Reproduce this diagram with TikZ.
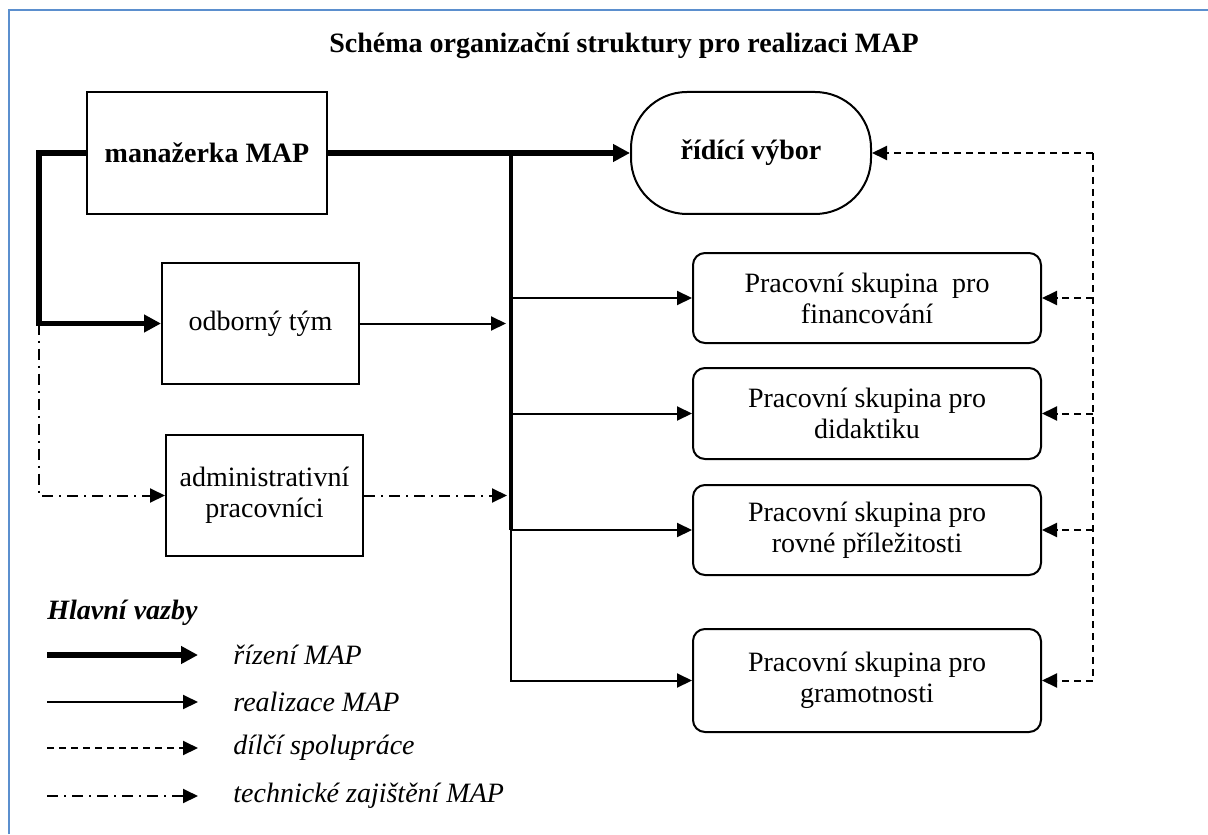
\documentclass[tikz,border=0pt]{standalone}
\usepackage{fontspec}
\setmainfont{Liberation Serif}
\usetikzlibrary{arrows.meta}
\definecolor{ramec}{RGB}{91,143,206}

\begin{document}
\begin{tikzpicture}[x=0.5pt,y=-0.5pt,
        font=\fontsize{14}{15.5}\selectfont,
        box/.style={draw,line width=1pt,minimum width=98.5pt,minimum height=60.5pt,align=center,inner sep=1pt},
        skupina/.style={draw,line width=1pt,rounded corners=6pt,minimum width=174pt,minimum height=45pt,align=center,inner sep=1pt},
        popis/.style={anchor=west,inner sep=0pt,font=\fontsize{14}{15.5}\selectfont\itshape},
        rizeni/.style={line width=2.7pt,-{Triangle[length=8.5pt,width=8.5pt]}},
        realizace/.style={line width=1pt,-{Triangle[length=7.5pt,width=7pt]}},
        spoluprace/.style={line width=1pt,dash pattern=on 3.5pt off 2.5pt,-{Triangle[length=7.5pt,width=7pt]}},
        technicke/.style={line width=1pt,dash pattern=on 5.5pt off 3pt on 1pt off 3pt,-{Triangle[length=7.5pt,width=7pt]}}]
    \useasboundingbox (0,0) rectangle (1208,834);
    % frame
    \draw[ramec,line width=0.8pt] (9,834) -- (9,10) -- (1208,10);

    % title
    \node[font=\fontsize{14}{16}\selectfont\bfseries] (nadpis) at (624,46) {Schéma organizační struktury pro realizaci MAP};

    % left column
    \node[box,minimum width=120pt,minimum height=61pt,font=\fontsize{14}{15.5}\selectfont\bfseries] (manazerka) at (207,153) {manažerka MAP};
    \node[box] (odborny) at (260.5,323.5) {odborný tým};
    \node[box] (admin) at (264.5,495.5) {administrativní\\pracovníci};

    % steering committee
    \node[draw,line width=1pt,rounded corners=28pt,minimum width=120pt,minimum height=61pt,font=\fontsize{14}{15.5}\selectfont\bfseries] (vybor) at (751,153) {řídící výbor};

    % working groups
    \node[skupina] (financ) at (867,298) {Pracovní skupina\ \ pro\\financování};
    \node[skupina,minimum height=45.5pt] (didakt) at (867,413.5) {Pracovní skupina pro\\didaktiku};
    \node[skupina] (rovne) at (867,530) {Pracovní skupina pro\\rovné příležitosti};
    \node[skupina,minimum height=51.5pt] (gramot) at (867,680.5) {Pracovní skupina pro\\gramotnosti};

    % helper points
    \coordinate (levy) at (39,153);
    \coordinate (sbernice) at (511,153);
    \coordinate (pravy) at (1093,153);
    \coordinate (vstup1) at (506,323.5);
    \coordinate (vstup2) at (507,495.5);

    % rizeni MAP
    \draw[rizeni] (manazerka.east) -- (vybor.west);
    \draw[rizeni] (manazerka.west) -- (levy) |- (odborny.west);

    % realizace MAP
    \draw[line width=1.8pt] (sbernice) -- (sbernice |- rovne.west);
    \draw[realizace] (sbernice |- financ.west) -- (financ.west);
    \draw[realizace] (sbernice |- didakt.west) -- (didakt.west);
    \draw[realizace] (sbernice |- rovne.west) -- (rovne.west);
    \draw[realizace] (sbernice |- financ.west) |- (gramot.west);
    \draw[realizace] (odborny.east) -- (vstup1);

    % technicke zajisteni
    \draw[technicke] (levy |- odborny.west) |- (admin.west);
    \draw[technicke] (admin.east) -- (vstup2);

    % dilci spoluprace
    \draw[spoluprace] (pravy) -- (vybor.east);
    \draw[spoluprace] (pravy) |- (gramot.east);
    \draw[spoluprace] (pravy |- financ.east) -- (financ.east);
    \draw[spoluprace] (pravy |- didakt.east) -- (didakt.east);
    \draw[spoluprace] (pravy |- rovne.east) -- (rovne.east);

    % legend
    \node[popis,font=\fontsize{14}{15.5}\selectfont\bfseries\itshape] (vazby) at (47,613) {Hlavní vazby};
    \coordinate (l1) at (47,655);
    \coordinate (l2) at (47,702);
    \coordinate (l3) at (47,748);
    \coordinate (l4) at (47,796);
    \coordinate (k1) at (198,655);
    \coordinate (k2) at (198,702);
    \coordinate (k3) at (198,748);
    \coordinate (k4) at (198,796);
    \draw[rizeni] (l1) -- (k1);
    \draw[realizace] (l2) -- (k2);
    \draw[spoluprace] (l3) -- (k3);
    \draw[technicke] (l4) -- (k4);
    \node[popis] (t1) at (233,655) {řízení MAP};
    \node[popis] (t2) at (233,702) {realizace MAP};
    \node[popis] (t3) at (233,748) {dílčí spolupráce};
    \node[popis] (t4) at (233,796) {technické zajištění MAP};
\end{tikzpicture}
\end{document}
